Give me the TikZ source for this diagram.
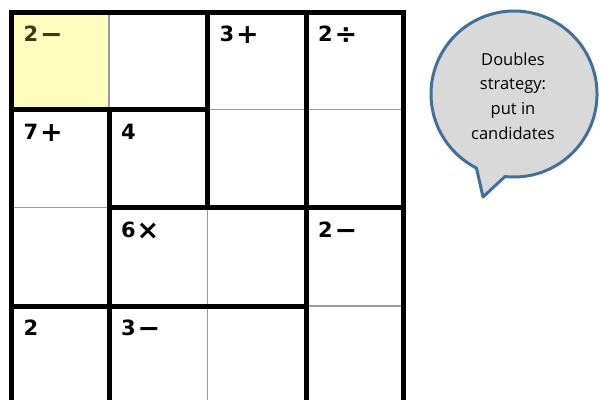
\documentclass[tikz,border=0pt]{standalone}
\usepackage{fontspec}
\setmainfont{DejaVu Sans}
\newfontfamily\bubblefont{Open Sans}
\definecolor{thingray}{HTML}{9A9A9A}
\definecolor{cellyellow}{HTML}{FFFDBE}
\definecolor{olivetext}{HTML}{3A3A12}
\definecolor{bubblefill}{HTML}{D9D9D9}
\definecolor{bubbleedge}{HTML}{41709C}
\begin{document}
\begin{tikzpicture}[x=1pt,y=-1pt,
  thinline/.style={draw=thingray, line width=1.3pt},
  cage/.style={draw=black, line width=5pt, line cap=rect},
  num/.style={anchor=base west, inner sep=0pt, font=\fontsize{21}{21}\selectfont\bfseries},
  op/.style={anchor=base, inner sep=0pt, font=\fontsize{27}{27}\selectfont\bfseries},
  btext/.style={anchor=base, inner sep=0pt, font=\bubblefont\fontsize{16.5}{16.5}\selectfont},
  bubble/.style={draw=bubbleedge, fill=bubblefill, line width=3pt, line join=round}]
\useasboundingbox (0,0) rectangle (601,399);
\begin{scope}
\clip (0,0) rectangle (601,399);
% highlighted cell
\fill[cellyellow] (11.5,12) rectangle (109,109.5);
% thin grid lines
\draw[thinline] (109,12) -- (109,410);
\draw[thinline] (207.5,12) -- (207.5,410);
\draw[thinline] (306,12) -- (306,410);
\draw[thinline] (11.5,109.5) -- (403.5,109.5);
\draw[thinline] (11.5,207.5) -- (403.5,207.5);
\draw[thinline] (11.5,306) -- (403.5,306);
% cage borders
\draw[cage] (11.5,410) -- (11.5,12) -- (403.5,12) -- (403.5,410);
\draw[cage] (207.5,12) -- (207.5,207.5);
\draw[cage] (306,12) -- (306,410);
\draw[cage] (11.5,109.5) -- (207.5,109.5);
\draw[cage] (109,109.5) -- (109,410);
\draw[cage] (109,207.5) -- (403.5,207.5);
\draw[cage] (11.5,306) -- (306,306);
\end{scope}
% clues
\node[num, text=olivetext] (c1) at (23.5,41.5) {2};
\node[op, text=olivetext] (o1) at (51.5,43.5) {−};
\node[num] (c2) at (219.5,41.5) {3};
\node[op] (o2) at (247.5,43.5) {+};
\node[num] (c3) at (318,41.5) {2};
\node[op] (o3) at (346,43.5) {÷};
\node[num] (c4) at (23.5,139) {7};
\node[op] (o4) at (51.5,141) {+};
\node[num] (c5) at (121,139) {4};
\node[num] (c6) at (121,237) {6};
\node[op] (o6) at (148,239.5) {×};
\node[num] (c7) at (318,237) {2};
\node[op] (o7) at (346,239) {−};
\node[num] (c8) at (23.5,335.5) {2};
\node[num] (c9) at (121,335.5) {3};
\node[op] (o9) at (149,337.5) {−};
% speech bubble
\coordinate (bc) at (514,94);
\coordinate (tip) at (483,197);
\draw[bubble] (bc) ++(116.9:83) arc[start angle=116.9, end angle=456.2, radius=83] -- (tip) -- cycle;
\node[btext] (t1) at (513,65) {Doubles};
\node[btext] (t2) at (513,89.5) {strategy:};
\node[btext] (t3) at (513,114) {put in};
\node[btext] (t4) at (513,139) {candidates};
\end{tikzpicture}
\end{document}
